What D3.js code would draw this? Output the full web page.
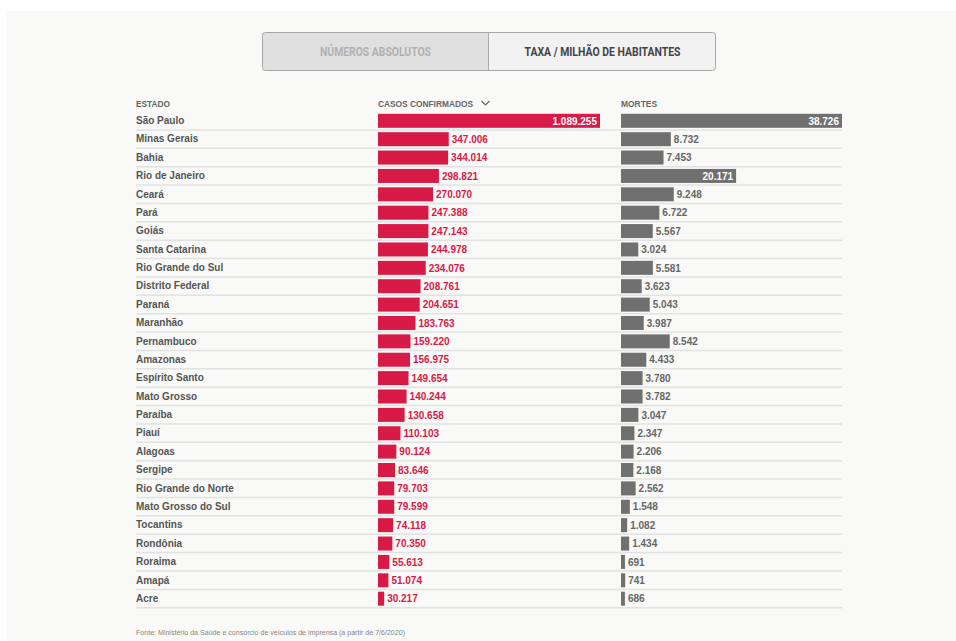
<!DOCTYPE html>
<html><head><meta charset="utf-8">
<script src="https://cdn.jsdelivr.net/npm/d3@7"></script>
<style>
html,body{margin:0;padding:0;background:#fff;}
svg{display:block;}
</style></head>
<body>
<script>
const states = ["São Paulo","Minas Gerais","Bahia","Rio de Janeiro","Ceará","Pará","Goiás","Santa Catarina","Rio Grande do Sul","Distrito Federal","Paraná","Maranhão","Pernambuco","Amazonas","Espírito Santo","Mato Grosso","Paraíba","Piauí","Alagoas","Sergipe","Rio Grande do Norte","Mato Grosso do Sul","Tocantins","Rondônia","Roraima","Amapá","Acre"];
const cases = [1089255,347006,344014,298821,270070,247388,247143,244978,234076,208761,204651,183763,159220,156975,149654,140244,130658,110103,90124,83646,79703,79599,74118,70350,55613,51074,30217];
const deaths = [38726,8732,7453,20171,9248,6722,5567,3024,5581,3623,5043,3987,8542,4433,3780,3782,3047,2347,2206,2168,2562,1548,1082,1434,691,741,686];
const headers = ["ESTADO","CASOS CONFIRMADOS","MORTES"];
const buttons = ["NÚMEROS ABSOLUTOS","TAXA / MILHÃO DE HABITANTES"];
const source = "Fonte: Ministério da Saúde e consórcio de veículos de imprensa (a partir de 7/6/2020)";

const W=956,H=641;
const fmt = d3.formatLocale({decimal:",",thousands:".",grouping:[3],currency:["",""]}).format(",d");
const svg = d3.select("body").append("svg").attr("width",W).attr("height",H);
svg.append("rect").attr("x",7).attr("y",11).attr("width",W-7).attr("height",H-11).attr("fill","#f9f9f7");

// buttons
const bx = d3.scaleBand().domain(buttons).range([262,716]);
const bg = svg.append("g");
bg.selectAll("rect").data(buttons).join("rect")
  .attr("x",d=>bx(d)+0.5).attr("y",32.5).attr("width",bx.bandwidth()-1).attr("height",38)
  .attr("fill",(d,i)=>i===0?"#e0e0e0":"#f2f2f2");
bg.append("rect").attr("x",262.5).attr("y",32.5).attr("width",453).attr("height",38).attr("rx",3)
  .attr("fill","none").attr("stroke","#a8a8a8");
bg.append("line").attr("x1",488.5).attr("x2",488.5).attr("y1",32.5).attr("y2",70.5).attr("stroke","#a8a8a8");
bg.selectAll("text").data(buttons).join("text")
  .attr("x",d=>bx(d)+bx.bandwidth()/2).attr("y",55.5).attr("text-anchor","middle")
  .attr("font-family","Roboto, 'Open Sans', sans-serif").attr("font-weight","bold").attr("font-size",12)
  .attr("textLength",(d,i)=>i===0?111:156).attr("lengthAdjust","spacingAndGlyphs")
  .attr("fill",(d,i)=>i===0?"#b0b0b0":"#444").text(d=>d);

const colX = [136,378,621];
const hdrLen = [34,95,36];
const font = "'Liberation Sans', Arial, sans-serif";
svg.selectAll("text.hdr").data(headers).join("text").attr("class","hdr")
  .attr("x",(d,i)=>colX[i]).attr("y",106.5).attr("font-family",font).attr("font-size",8.5)
  .attr("font-weight","bold").attr("textLength",(d,i)=>hdrLen[i]).attr("lengthAdjust","spacingAndGlyphs")
  .attr("fill","#666").text(d=>d);
// chevron
svg.append("path").attr("d","M481.5,101 L485.5,105 L489.5,101").attr("fill","none").attr("stroke","#666").attr("stroke-width",1.2);

const y = d3.scaleBand().domain(states).range([111.5,111.5+27*18.38]);
const xC = d3.scaleLinear().domain([0,d3.max(cases)]).range([378,600]);
const xD = d3.scaleLinear().domain([0,d3.max(deaths)]).range([621,842]);

const rows = svg.selectAll("g.row").data(states).join("g").attr("class","row")
  .attr("transform",d=>`translate(0,${y(d)})`);
rows.append("line").attr("x1",136).attr("x2",842).attr("y1",y.bandwidth()).attr("y2",y.bandwidth())
  .attr("stroke","#e2e2e2").attr("stroke-width",1.5);
rows.append("text").attr("x",136).attr("y",12.5).attr("font-family",font).attr("font-weight","bold")
  .attr("font-size",10).attr("fill","#555").text(d=>d);

function drawBars(vals,x,color,labelColor){
  const mx=d3.max(vals);
  rows.append("rect").attr("x",x(0)).attr("y",2.3).attr("height",14)
    .attr("width",(d,i)=>x(vals[i])-x(0)).attr("fill",color);
  rows.append("text").attr("y",13).attr("font-family",font).attr("font-weight","bold").attr("font-size",10)
    .attr("x",(d,i)=>vals[i]>mx/2?x(vals[i])-3:x(vals[i])+3)
    .attr("text-anchor",(d,i)=>vals[i]>mx/2?"end":"start")
    .attr("fill",(d,i)=>vals[i]>mx/2?"#fff":labelColor)
    .text((d,i)=>fmt(vals[i]));
}
drawBars(cases,xC,"#d81a46","#d81a46");
drawBars(deaths,xD,"#707070","#666");

svg.append("text").attr("x",136).attr("y",635).attr("font-family",font).attr("font-size",7.5)
  .attr("textLength",269).attr("lengthAdjust","spacingAndGlyphs")
  .attr("fill","#888").text(source);
</script>
</body></html>
